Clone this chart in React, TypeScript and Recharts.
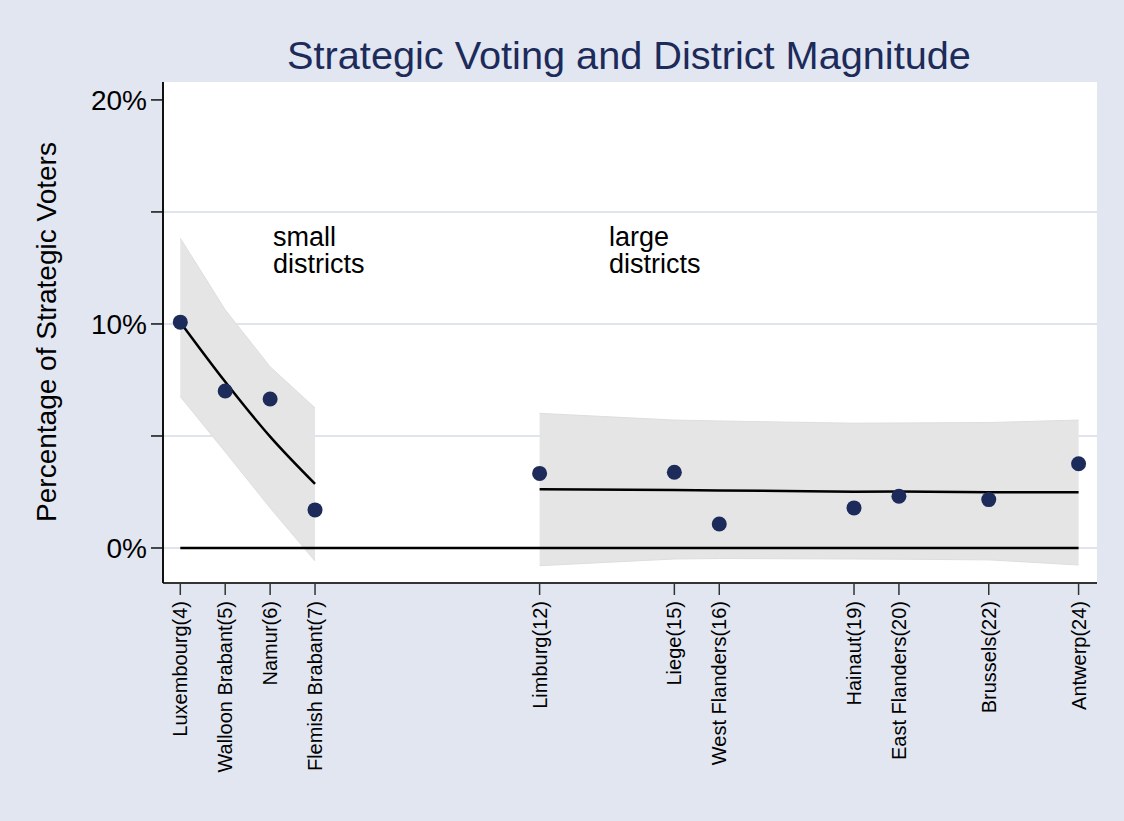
import React from 'react';
import {
  ComposedChart, Line, Area, Scatter, XAxis, YAxis, CartesianGrid, ReferenceDot,
} from 'recharts';

// districts, ordered by magnitude (seats)
const districts = [
  'Luxembourg', 'Walloon Brabant', 'Namur', 'Flemish Brabant', 'Limburg', 'Liege',
  'West Flanders', 'Hainaut', 'East Flanders', 'Brussels', 'Antwerp',
];
const magnitudes = [4, 5, 6, 7, 12, 15, 16, 19, 20, 22, 24];
const strategicPct = [10.08, 7.01, 6.65, 1.7, 3.33, 3.38, 1.07, 1.79, 2.31, 2.16, 3.76];

// fitted line + confidence band, small districts
const smallX = [4, 5, 6, 7];
const smallFit = [10.08, 7.42, 4.97, 2.86];
const smallHi = [13.83, 10.63, 8.09, 6.25];
const smallLo = [6.76, 4.29, 1.79, -0.58];

// fitted line + confidence band, large districts
const largeX = [12, 15, 16, 19, 20, 22, 24];
const largeFit = [2.62, 2.59, 2.57, 2.51, 2.52, 2.49, 2.49];
const largeHi = [6.01, 5.71, 5.67, 5.57, 5.58, 5.6, 5.71];
const largeLo = [-0.79, -0.49, -0.47, -0.49, -0.5, -0.53, -0.76];

const zeroX = [4, 24];
const yTicks = [0, 5, 10, 15, 20];
const gridValues = [0, 5, 10, 15];

const FONT = '"Liberation Sans", Arial, Helvetica, sans-serif';
const NAVY = '#1c2b5a';
const BG = '#e1e6f0';

const points = magnitudes.map((x, i) => ({ x, y: strategicPct[i] }));
const smallData = smallX.map((x, i) => ({ x, fit: smallFit[i], band: [smallLo[i], smallHi[i]] }));
const largeData = largeX.map((x, i) => ({ x, fit: largeFit[i], band: [largeLo[i], largeHi[i]] }));
const zeroData = zeroX.map(x => ({ x, y: 0 }));

const DistrictTick = (props: any) => {
  const { x, y, payload } = props;
  const i = magnitudes.indexOf(payload.value);
  const label = i >= 0 ? `${districts[i]}(${payload.value})` : '';
  return (
    <g transform={`translate(${x},${y})`}>
      <text transform="rotate(-90)" textAnchor="end" dy="0.35em" fontSize={20} fontFamily={FONT} fill="#000">
        {label}
      </text>
    </g>
  );
};

const Note = ({ lines }: { lines: string[] }) => (props: any) => (
  <text x={props.cx} y={props.cy} fontSize={27} fontFamily={FONT} fill="#000">
    {lines.map((l, i) => (
      <tspan key={i} x={props.cx} dy={i === 0 ? 0 : 27}>{l}</tspan>
    ))}
  </text>
);

export default function App() {
  return (
    <div style={{ position: 'absolute', left: 0, top: 0, width: 1124, height: 821, background: BG, fontFamily: FONT }}>
      <ComposedChart width={1124} height={821} margin={{ top: 82, right: 27, left: 0, bottom: 0 }}>
        <CartesianGrid fill="#fff" vertical={false} horizontalValues={gridValues} stroke="#dfe4ee" strokeWidth={2} />
        <XAxis
          dataKey="x" type="number" domain={[3.615, 24.41]} allowDataOverflow
          ticks={magnitudes} interval={0} height={238} tickSize={12} tickMargin={6}
          tick={<DistrictTick />} axisLine={{ stroke: '#333', strokeWidth: 2 }} tickLine={{ stroke: '#333', strokeWidth: 1.5 }}
        />
        <YAxis
          type="number" domain={[-1.5625, 20.8]} allowDataOverflow ticks={yTicks} interval={0}
          width={163} tickSize={12} tickMargin={4}
          tickFormatter={(v: number) => (v % 10 === 0 ? `${v}%` : '')}
          tick={{ fontSize: 28, fontFamily: FONT, fill: '#000' }}
          axisLine={{ stroke: '#111', strokeWidth: 2 }} tickLine={{ stroke: '#111', strokeWidth: 1.5 }}
        />
        <Area data={smallData} dataKey="band" type="linear" fill="#e5e5e5" fillOpacity={1} stroke="#dedede" strokeWidth={1} isAnimationActive={false} />
        <Area data={largeData} dataKey="band" type="linear" fill="#e5e5e5" fillOpacity={1} stroke="#dedede" strokeWidth={1} isAnimationActive={false} />
        <Line data={zeroData} dataKey="y" type="linear" stroke="#000" strokeWidth={2.5} dot={false} isAnimationActive={false} />
        <Line data={smallData} dataKey="fit" type="monotone" stroke="#000" strokeWidth={2.5} dot={false} isAnimationActive={false} />
        <Line data={largeData} dataKey="fit" type="linear" stroke="#000" strokeWidth={2.5} dot={false} isAnimationActive={false} />
        <Scatter
          data={points} dataKey="y" isAnimationActive={false}
          shape={(p: any) => <circle cx={p.cx} cy={p.cy} r={7.5} fill={NAVY} />}
        />
        <ReferenceDot x={6.064} y={13.5} r={0} shape={Note({ lines: ['small', 'districts'] })} />
        <ReferenceDot x={13.546} y={13.5} r={0} shape={Note({ lines: ['large', 'districts'] })} />
      </ComposedChart>
      <svg width={1124} height={821} style={{ position: 'absolute', left: 0, top: 0, pointerEvents: 'none' }}>
        <text x={629} y={69} textAnchor="middle" fontSize={39.7} fontFamily={FONT} fill={NAVY}>
          Strategic Voting and District Magnitude
        </text>
        <text transform="translate(56,332) rotate(-90)" textAnchor="middle" fontSize={28} fontFamily={FONT} fill="#000">
          Percentage of Strategic Voters
        </text>
      </svg>
    </div>
  );
}
